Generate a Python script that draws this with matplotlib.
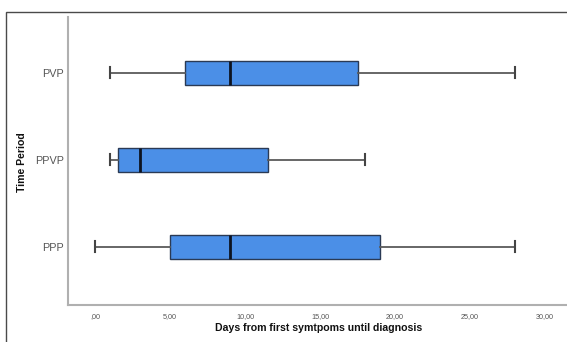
import matplotlib
matplotlib.use("Agg")
import matplotlib.pyplot as plt
from matplotlib.patches import Rectangle

categories = ["PPP", "PPVP", "PVP"]
whislo = [0.0, 1.0, 1.0]
q1 = [5.0, 1.5, 6.0]
med = [9.0, 3.0, 9.0]
q3 = [19.0, 11.5, 17.5]
whishi = [28.0, 18.0, 28.0]
xticks = [0, 5, 10, 15, 20, 25, 30]
xticklabels = [",00", "5,00", "10,00", "15,00", "20,00", "25,00", "30,00"]

plt.rcParams['font.family'] = ['Liberation Sans', 'DejaVu Sans']

W, H = 567, 342
fig = plt.figure(figsize=(W / 100, H / 100), dpi=100)

# outer frame
fig.patches.append(Rectangle((6 / W, 0 - 0.01), 1.05, (H - 12) / H + 0.01,
                             transform=fig.transFigure, fill=False,
                             edgecolor="#4a4a4a", linewidth=1.0))

ax = fig.add_axes([68 / W, (H - 305) / H, (W - 68) / W + 0.01, (305 - 17) / H])

stats = []
for i, c in enumerate(categories):
    stats.append(dict(label=c, whislo=whislo[i], q1=q1[i], med=med[i],
                      q3=q3[i], whishi=whishi[i], fliers=[]))

ax.bxp(stats, positions=range(len(categories)), vert=False, widths=0.28,
       patch_artist=True, showfliers=False, capwidths=0.13,
       boxprops=dict(facecolor="#4b8fe7", edgecolor="#2a3a55", linewidth=1.0),
       medianprops=dict(color="#0d1320", linewidth=2.0),
       whiskerprops=dict(color="#5a5a5a", linewidth=1.3),
       capprops=dict(color="#444444", linewidth=1.5))

ax.set_xlim(-1.8, 31.84)
ax.set_ylim(-0.67, 2.64)
ax.set_xticks(xticks)
ax.set_xticklabels(xticklabels, fontsize=5.2, color="#555555")
ax.set_yticks(range(len(categories)))
ax.set_yticklabels(categories, fontsize=7.8, color="#555555")
ax.tick_params(axis="both", length=0, pad=6)
ax.tick_params(axis="y", pad=3)

for s in ["top", "right"]:
    ax.spines[s].set_visible(False)
for s in ["left", "bottom"]:
    ax.spines[s].set_color("#b0b0b0")
    ax.spines[s].set_linewidth(1.5)

fig.text(319 / W, 1 - 328 / H, "Days from first symtpoms until diagnosis",
         ha="center", va="center", fontsize=7.6, fontweight="bold", color="#111111")
fig.text(22 / W, 1 - 162 / H, "Time Period", ha="center", va="center",
         rotation=90, fontsize=7.6, fontweight="bold", color="#111111")

fig.savefig("out.png", dpi=100)
